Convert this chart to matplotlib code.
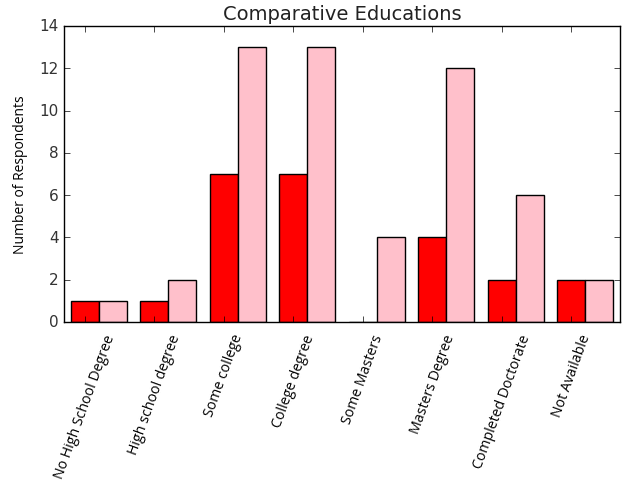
import matplotlib
matplotlib.use("Agg")
import matplotlib.pyplot as plt
import numpy as np

# Education levels and respondent counts for the two groups
categories = [
    "No High School Degree",
    "High school degree",
    "Some college",
    "College degree",
    "Some Masters",
    "Masters Degree",
    "Completed Doctorate",
    "Not Available",
]
group_a = [1, 1, 7, 7, 0, 4, 2, 2]
group_b = [1, 2, 13, 13, 4, 12, 6, 2]

plt.style.use("classic")
plt.rcParams["figure.facecolor"] = "white"
plt.rcParams["savefig.facecolor"] = "white"

fig = plt.figure(figsize=(6.24, 4.81), dpi=100)
ax = fig.add_axes([0.1026, 0.3285, 0.891, 0.6154])

ind = np.arange(len(categories))
width = 0.4

ax.bar(ind, group_a, width, align="edge", color="red", edgecolor="black")
ax.bar(ind + width, group_b, width, align="edge", color="pink", edgecolor="black")

ax.set_xlim(-0.1, 7.9)
ax.set_ylim(0, 14)
ax.set_yticks(range(0, 15, 2))
ax.set_xticks(ind + width / 2)
ax.set_xticklabels(categories, rotation=70, ha="center",
                   fontsize=10.2, family="Open Sans")
ax.tick_params(axis="x", pad=7)
ax.tick_params(axis="y", labelsize=11)
for lbl in ax.get_yticklabels():
    lbl.set_color("#333333")

ax.set_title("Comparative Educations", fontsize=14, color="#222222", pad=5)
ax.set_ylabel("Number of Respondents", fontsize=10, family="Open Sans",
              labelpad=8)

fig.savefig("out.png", dpi=100)
